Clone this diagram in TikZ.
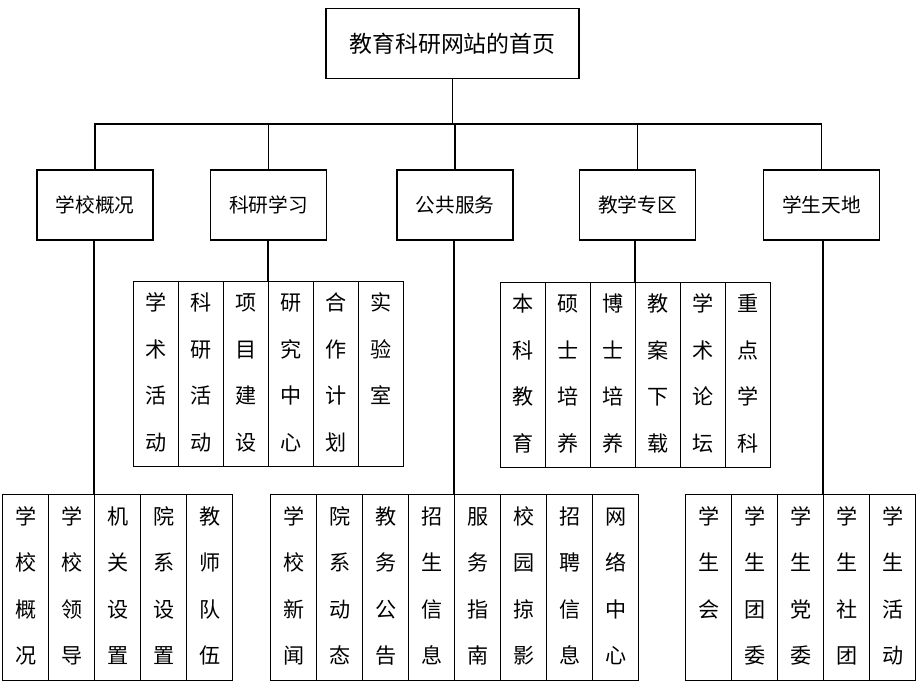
\documentclass[tikz,border=0pt]{standalone}
\usepackage{fontspec}
\setmainfont{Noto Sans CJK SC}
\newcommand{\vtxt}[1]{\parbox[c][4.5cm][t]{1cm}{\centering\fontsize{15pt}{1.16cm}\selectfont\rule{0pt}{0.67cm}#1}}
\begin{document}
\begin{tikzpicture}[x=0.025cm,y=-0.025cm,line width=0.9pt,
  homebox/.style={rectangle,draw=black,minimum width=6.325cm,minimum height=1.75cm,font=\fontsize{16.3pt}{18pt}\selectfont},
  menu/.style={rectangle,draw=black,minimum width=2.9cm,minimum height=1.75cm,font=\fontsize{14pt}{16pt}\selectfont},
  midcol/.style={rectangle,draw=black,anchor=north west,inner sep=0pt,minimum width=1.125cm,minimum height=4.625cm},
  lowcol/.style={rectangle,draw=black,anchor=north west,inner sep=0pt,minimum width=1.15cm,minimum height=4.65cm}]
\useasboundingbox (0,0) rectangle (920,690);

\node[homebox] (home) at (452.5,43.5) {教育科研网站的首页};
\node[menu] (gaikuang) at (95,205) {学校概况};
\node[menu] (keyan) at (268.5,205) {科研学习};
\node[menu] (fuwu) at (455,205) {公共服务};
\node[menu] (jiaoxue) at (637.5,205) {教学专区};
\node[menu] (tiandi) at (821.5,205) {学生天地};

\coordinate (bus) at (0,124);
\draw (home.south) -- (home.south |- bus);
\draw (gaikuang.north) |- (tiandi.north |- bus) -- (tiandi.north);
\draw (keyan.north) -- (keyan.north |- bus);
\draw (fuwu.north) -- (fuwu.north |- bus);
\draw (jiaoxue.north) -- (jiaoxue.north |- bus);

\node[midcol] (k1) at (133,281) {\vtxt{学\\术\\活\\动}};
\node[midcol] (k2) at (178,281) {\vtxt{科\\研\\活\\动}};
\node[midcol] (k3) at (223,281) {\vtxt{项\\目\\建\\设}};
\node[midcol] (k4) at (268,281) {\vtxt{研\\究\\中\\心}};
\node[midcol] (k5) at (313,281) {\vtxt{合\\作\\计\\划}};
\node[midcol] (k6) at (358,281) {\vtxt{实\\验\\室}};
\draw (k4.north west |- keyan.south) -- (k4.north west);

\node[midcol] (j1) at (500,282) {\vtxt{本\\科\\教\\育}};
\node[midcol] (j2) at (545,282) {\vtxt{硕\\士\\培\\养}};
\node[midcol] (j3) at (590,282) {\vtxt{博\\士\\培\\养}};
\node[midcol] (j4) at (635,282) {\vtxt{教\\案\\下\\载}};
\node[midcol] (j5) at (680,282) {\vtxt{学\\术\\论\\坛}};
\node[midcol] (j6) at (725,282) {\vtxt{重\\点\\学\\科}};
\draw (j4.north west |- jiaoxue.south) -- (j4.north west);

\node[lowcol] (g1) at (2,494) {\vtxt{学\\校\\概\\况}};
\node[lowcol] (g2) at (48,494) {\vtxt{学\\校\\领\\导}};
\node[lowcol] (g3) at (94,494) {\vtxt{机\\关\\设\\置}};
\node[lowcol] (g4) at (140,494) {\vtxt{院\\系\\设\\置}};
\node[lowcol] (g5) at (186,494) {\vtxt{教\\师\\队\\伍}};
\draw (g3.north west |- gaikuang.south) -- (g3.north west);

\node[lowcol] (f1) at (270,494) {\vtxt{学\\校\\新\\闻}};
\node[lowcol] (f2) at (316,494) {\vtxt{院\\系\\动\\态}};
\node[lowcol] (f3) at (362,494) {\vtxt{教\\务\\公\\告}};
\node[lowcol] (f4) at (408,494) {\vtxt{招\\生\\信\\息}};
\node[lowcol] (f5) at (454,494) {\vtxt{服\\务\\指\\南}};
\node[lowcol] (f6) at (500,494) {\vtxt{校\\园\\掠\\影}};
\node[lowcol] (f7) at (546,494) {\vtxt{招\\聘\\信\\息}};
\node[lowcol] (f8) at (592,494) {\vtxt{网\\络\\中\\心}};
\draw (f5.north west |- fuwu.south) -- (f5.north west);

\node[lowcol] (t1) at (685,494) {\vtxt{学\\生\\会}};
\node[lowcol] (t2) at (731,494) {\vtxt{学\\生\\团\\委}};
\node[lowcol] (t3) at (777,494) {\vtxt{学\\生\\党\\委}};
\node[lowcol] (t4) at (823,494) {\vtxt{学\\生\\社\\团}};
\node[lowcol] (t5) at (869,494) {\vtxt{学\\生\\活\\动}};
\draw (t4.north west |- tiandi.south) -- (t4.north west);
\end{tikzpicture}
\end{document}
